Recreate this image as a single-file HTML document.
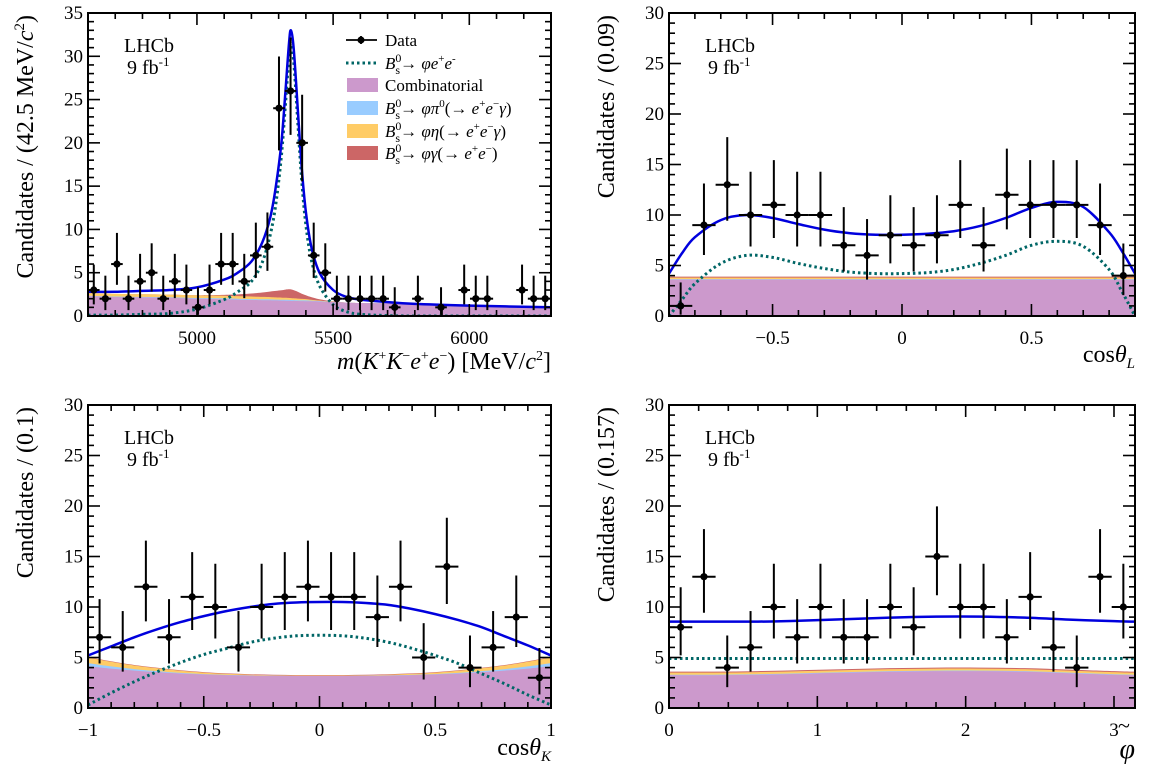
<!DOCTYPE html>
<html><head><meta charset="utf-8"><style>
html,body{margin:0;padding:0;background:#fff;}
svg{display:block;}
svg text{font-family:"Liberation Serif","DejaVu Serif",serif;}
</style></head><body>
<svg id="fig" width="1158" height="782" viewBox="0 0 1158 782" xmlns="http://www.w3.org/2000/svg" font-family="Liberation Serif, serif"></svg>
<script>
// ---------- Panel 1: mass ----------
const massBinCenters = [];
for (let i = 0; i < 40; i++) massBinCenters.push(4600 + 42.5 * (i + 0.5));
const massCounts = [3,2,6,2,4,5,2,4,3,1,3,6,6,4,7,8,24,26,20,7,5,2,2,2,2,2,1,0,2,0,1,0,3,2,2,0,0,3,2,2];
const massCurveX = [4600,4700,4800,4900,5000,5100,5150,5200,5240,5270,5290,5310,5325,5338,5345,5355,5370,5385,5400,5420,5450,5500,5550,5600,5700,5800,6000,6300];
const massTotal = [2.8,2.8,2.9,3.0,3.3,4.2,5.0,6.3,8.5,11.5,15,20,26,31.5,33,31,24,17,12,8,5,3.0,2.2,1.9,1.6,1.4,1.2,1.0];
const massSignal = [0.1,0.1,0.2,0.3,0.8,1.9,2.8,4.0,6.2,9.5,13,18.5,24.5,30,31.5,29.5,22.5,15.5,10.5,6.5,3.5,1.3,0.5,0.2,0.05,0,0,0];
const massComb = [2.3,2.2,2.15,2.1,2.0,1.95,1.9,1.85,1.83,1.82,1.8,1.78,1.77,1.76,1.75,1.74,1.73,1.72,1.71,1.7,1.68,1.6,1.55,1.5,1.45,1.35,1.15,0.9];
const massPi0 = [0.05,0.05,0.06,0.07,0.08,0.09,0.1,0.1,0.1,0.1,0.1,0.1,0.1,0.1,0.1,0.1,0.1,0.1,0.1,0.08,0.05,0.02,0,0,0,0,0,0];
const massEta = [0.3,0.3,0.3,0.3,0.3,0.3,0.3,0.3,0.28,0.26,0.25,0.24,0.23,0.22,0.22,0.2,0.18,0.16,0.14,0.1,0.06,0.02,0,0,0,0,0,0];
const massGamma = [0,0,0,0,0.02,0.1,0.2,0.35,0.5,0.65,0.75,0.85,0.95,1.0,1.0,0.95,0.8,0.6,0.45,0.3,0.15,0.05,0,0,0,0,0,0];
const massXTicks = [5000,5500,6000];
// ---------- Panel 2: cos theta_L ----------
const ctlBinCenters = [];
for (let i = 0; i < 20; i++) ctlBinCenters.push(-0.9 + 0.09 * (i + 0.5));
const ctlCounts = [1,9,13,10,11,10,10,7,6,8,7,8,11,7,12,11,11,11,9,4];
const ctlCurveX = [-0.9,-0.85,-0.8,-0.7,-0.6,-0.5,-0.4,-0.3,-0.2,-0.1,0,0.1,0.2,0.3,0.4,0.5,0.6,0.7,0.8,0.85,0.9];
const ctlTotal = [4.2,6.2,7.8,9.5,10.0,9.7,9.1,8.55,8.2,8.05,8.05,8.15,8.4,8.9,9.7,10.7,11.3,10.8,8.3,6.4,4.2];
const ctlSignal = [0,1.6,3.2,5.2,6.0,5.8,5.2,4.7,4.35,4.2,4.2,4.3,4.6,5.2,6.0,7.0,7.4,6.9,4.6,2.4,0];
const ctlComb = [3.6,3.6,3.6,3.6,3.6,3.6,3.6,3.6,3.6,3.6,3.6,3.6,3.6,3.6,3.6,3.6,3.6,3.6,3.6,3.6,3.6];
const ctlPi0 = [0.05,0.05,0.05,0.05,0.05,0.05,0.05,0.05,0.05,0.05,0.05,0.05,0.05,0.05,0.05,0.05,0.05,0.05,0.05,0.05,0.05];
const ctlEta = [0.15,0.15,0.15,0.15,0.15,0.15,0.15,0.15,0.15,0.15,0.15,0.15,0.15,0.15,0.15,0.15,0.15,0.15,0.15,0.15,0.15];
const ctlGamma = [0.1,0.1,0.1,0.1,0.1,0.1,0.1,0.1,0.1,0.1,0.1,0.1,0.1,0.1,0.1,0.1,0.1,0.1,0.1,0.1,0.1];
const ctlXTicks = [-0.5,0,0.5];
// ---------- Panel 3: cos theta_K ----------
const ctkBinCenters = [];
for (let i = 0; i < 20; i++) ctkBinCenters.push(-1 + 0.1 * (i + 0.5));
const ctkCounts = [7,6,12,7,11,10,6,10,11,12,11,11,9,12,5,14,4,6,9,3];
const ctkCurveX = [-1,-0.9,-0.8,-0.7,-0.6,-0.5,-0.4,-0.3,-0.2,-0.1,0,0.1,0.2,0.3,0.4,0.5,0.6,0.7,0.8,0.9,1];
const ctkTotal = [5.2,6.1,7.0,7.8,8.5,9.1,9.6,10.0,10.3,10.45,10.5,10.5,10.4,10.2,9.8,9.3,8.7,8.0,7.1,6.2,5.2];
const ctkSignal = [0.3,1.5,2.6,3.6,4.5,5.3,5.9,6.5,6.9,7.15,7.2,7.15,6.9,6.5,5.9,5.2,4.4,3.4,2.4,1.3,0.3];
const ctkComb = [4.15,3.9,3.7,3.55,3.42,3.33,3.26,3.22,3.19,3.17,3.17,3.17,3.19,3.22,3.26,3.33,3.42,3.55,3.7,3.9,4.15];
const ctkPi0 = [0.3,0.22,0.15,0.1,0.06,0.03,0.02,0.01,0,0,0,0,0,0.01,0.02,0.03,0.06,0.1,0.15,0.22,0.3];
const ctkEta = [0.55,0.45,0.36,0.28,0.2,0.14,0.1,0.07,0.05,0.04,0.04,0.04,0.05,0.07,0.1,0.14,0.2,0.28,0.36,0.45,0.55];
const ctkGamma = [0.05,0.05,0.05,0.05,0.05,0.05,0.05,0.05,0.05,0.05,0.05,0.05,0.05,0.05,0.05,0.05,0.05,0.05,0.05,0.05,0.05];
const ctkXTicks = [-1,-0.5,0,0.5,1];
// ---------- Panel 4: phi ----------
const phiBinCenters = [];
for (let i = 0; i < 20; i++) phiBinCenters.push(Math.PI / 20 * (i + 0.5));
const phiCounts = [8,13,4,6,10,7,10,7,7,10,8,15,10,10,7,11,6,4,13,10];
const phiCurveX = [0,0.3,0.6,0.9,1.2,1.5,1.8,2.1,2.4,2.7,3.0,3.1416];
const phiTotal = [8.55,8.55,8.55,8.65,8.8,8.95,9.05,9.05,8.95,8.75,8.6,8.55];
const phiSignal = [4.9,4.9,4.9,4.9,4.9,4.9,4.9,4.9,4.9,4.9,4.9,4.9];
const phiComb = [3.25,3.25,3.3,3.4,3.5,3.6,3.65,3.65,3.6,3.45,3.3,3.25];
const phiPi0 = [0.05,0.05,0.05,0.05,0.05,0.05,0.05,0.05,0.05,0.05,0.05,0.05];
const phiEta = [0.2,0.2,0.2,0.2,0.2,0.2,0.2,0.2,0.2,0.2,0.2,0.2];
const phiGamma = [0.1,0.1,0.1,0.1,0.1,0.1,0.1,0.1,0.1,0.1,0.1,0.1];
const phiXTicks = [0,1,2,3];

const NS = "http://www.w3.org/2000/svg";
const svg = document.getElementById('fig');
function mk(tag, attrs, parent) {
  const e = document.createElementNS(NS, tag);
  for (const k in attrs) e.setAttribute(k, attrs[k]);
  (parent || svg).appendChild(e);
  return e;
}
const COLORS = {comb:'#cc99cc', pi0:'#99ccff', eta:'#ffcc66', gamma:'#cc6666'};

function smoothPath(pts) {
  let d = 'M' + pts[0][0].toFixed(1) + ',' + pts[0][1].toFixed(1);
  for (let i = 0; i < pts.length - 1; i++) {
    const p0 = pts[i - 1] || pts[i], p1 = pts[i], p2 = pts[i + 1], p3 = pts[i + 2] || p2;
    const c1x = p1[0] + (p2[0] - p0[0]) / 6, c1y = p1[1] + (p2[1] - p0[1]) / 6;
    const c2x = p2[0] - (p3[0] - p1[0]) / 6, c2y = p2[1] - (p3[1] - p1[1]) / 6;
    d += ' C' + c1x.toFixed(1) + ',' + c1y.toFixed(1) + ' ' + c2x.toFixed(1) + ',' + c2y.toFixed(1) + ' ' + p2[0].toFixed(1) + ',' + p2[1].toFixed(1);
  }
  return d;
}

function panel(cfg) {
  const g = mk('g', {});
  
  
  const L = cfg.L, R = cfg.R, T = cfg.T, B = cfg.B;
  const sx = v => L + (v - cfg.xmin) / (cfg.xmax - cfg.xmin) * (R - L);
  const sy = v => B - (v - 0) / (cfg.ymax - 0) * (B - T);
  const clip = 'clip-' + cfg.name;
  const cp = mk('clipPath', {id: clip}, g);
  mk('rect', {x: L, y: T, width: R - L, height: B - T}, cp);
  const area = mk('g', {'clip-path': 'url(#' + clip + ')'}, g);
  const layers = [['comb', cfg.comb], ['pi0', cfg.pi0], ['eta', cfg.eta], ['gamma', cfg.gamma]];
  let base = cfg.cx.map(() => 0);
  const polys = [];
  layers.forEach(([k, arr]) => {
    const top = base.map((b, i) => b + arr[i]);
    polys.push([k, top]);
    base = top;
  });
  polys.reverse().forEach(([k, top]) => {
    const pts = cfg.cx.map((x, i) => [sx(x), sy(top[i])]);
    let d = smoothPath(pts);
    d += ' L' + sx(cfg.cx[cfg.cx.length - 1]) + ',' + sy(0) + ' L' + sx(cfg.cx[0]) + ',' + sy(0) + ' Z';
    const p = mk('path', {d: d, fill: COLORS[k], stroke: 'none'}, area);
    
    
  });
  function line(arr, attrs, nm) {
    const d = smoothPath(cfg.cx.map((x, i) => [sx(x), sy(arr[i])]));
    const p = mk('path', Object.assign({d: d, fill: 'none'}, attrs), area);
    
    
  }
  line(cfg.signal, {stroke: '#006666', 'stroke-width': 3, 'stroke-dasharray': '2.5,3'}, 'signal-curve');
  line(cfg.total, {stroke: '#0000dd', 'stroke-width': 2.5, 'stroke-linejoin': 'round'}, 'total-fit-curve');
  const hw = cfg.bw / 2;
  cfg.bc.forEach((x, i) => {
    const n = cfg.counts[i];
    if (n <= 0) return;
    const up = n + Math.sqrt(n + 0.75) + 1, dn = n - Math.sqrt(n - 0.25);
    const pg = mk('g', {stroke: '#000', 'stroke-width': 2}, area);
    
    
    mk('line', {x1: sx(x - hw), x2: sx(x + hw), y1: sy(n), y2: sy(n)}, pg);
    mk('line', {x1: sx(x), x2: sx(x), y1: sy(up), y2: sy(dn)}, pg);
    mk('circle', {cx: sx(x), cy: sy(n), r: 3.6, fill: '#000', stroke: 'none'}, pg);
  });
  const fr = mk('rect', {x: L, y: T, width: R - L, height: B - T, fill: 'none', stroke: '#000', 'stroke-width': 2}, g);
  
  
  const tk = mk('g', {stroke: '#000', 'stroke-width': 1.6}, g);
  for (let v = 0; v <= cfg.ymax + 1e-9; v += 1) {
    const len = v % 5 === 0 ? 12 : 6;
    mk('line', {x1: L, x2: L + len, y1: sy(v), y2: sy(v)}, tk);
    mk('line', {x1: R, x2: R - len, y1: sy(v), y2: sy(v)}, tk);
  }
  const start = Math.ceil(cfg.xmin / cfg.minor - 1e-6) * cfg.minor;
  for (let v = start; v <= cfg.xmax + 1e-6; v += cfg.minor) {
    const isMaj = Math.abs(v / cfg.major - Math.round(v / cfg.major)) < 1e-4;
    const len = isMaj ? 12 : 6;
    mk('line', {x1: sx(v), x2: sx(v), y1: B, y2: B - len}, tk);
    mk('line', {x1: sx(v), x2: sx(v), y1: T, y2: T + len}, tk);
  }
  for (let v = 0; v <= cfg.ymax; v += 5) {
    const t = mk('text', {x: L - 5, y: sy(v) + 6, 'text-anchor': 'end', 'font-size': 19}, g);
    t.textContent = v;
    
    
  }
  cfg.xticks.forEach(v => {
    const t = mk('text', {x: sx(v), y: B + 28, 'text-anchor': 'middle', 'font-size': 19}, g);
    t.textContent = v < 0 ? '\u2212' + (-v) : String(v);
    
    
  });
  const l1 = mk('text', {x: L + 36, y: T + 39, 'font-size': 20}, g);
  l1.textContent = 'LHCb';
  
  
  const l2 = mk('text', {x: L + 39, y: T + 61, 'font-size': 20}, g);
  l2.innerHTML = '9 fb<tspan dy="-8" font-size="13">-1</tspan>';
  
  
  const yt = mk('text', {transform: 'translate(' + cfg.ytx + ',' + (T + 2) + ') rotate(-90)', 'text-anchor': 'end', 'font-size': 24}, g);
  yt.innerHTML = cfg.ytitle;
  
  
  const xt = mk('text', {x: R, y: cfg.xty, 'text-anchor': 'end', 'font-size': 24}, g);
  xt.innerHTML = cfg.xtitle;
  
  
  return {g: g, R: R, xty: cfg.xty};
}

panel({name:'mass-panel', L:88, R:551, T:13, B:316, xmin:4600, xmax:6300, ymax:35, major:500, minor:100,
  bc:massBinCenters, bw:42.5, counts:massCounts, cx:massCurveX, total:massTotal, signal:massSignal,
  comb:massComb, pi0:massPi0, eta:massEta, gamma:massGamma, xticks:massXTicks, ytx:33,
  ytitle:'Candidates / (42.5 MeV/<tspan font-style="italic">c</tspan><tspan dy="-9" font-size="15">2</tspan><tspan dy="9">)</tspan>',
  xty:369, xtitle:'<tspan font-style="italic">m</tspan>(<tspan font-style="italic">K</tspan><tspan dy="-9" font-size="14">+</tspan><tspan dy="9" font-style="italic">K</tspan><tspan dy="-9" font-size="14">\u2212</tspan><tspan dy="9" font-style="italic">e</tspan><tspan dy="-9" font-size="14">+</tspan><tspan dy="9" font-style="italic">e</tspan><tspan dy="-9" font-size="14">\u2212</tspan><tspan dy="9">) [MeV/</tspan><tspan font-style="italic">c</tspan><tspan dy="-9" font-size="14">2</tspan><tspan dy="9">]</tspan>'});
panel({name:'costhetal-panel', L:669, R:1135, T:13, B:316, xmin:-0.9, xmax:0.9, ymax:30, major:0.5, minor:0.1,
  bc:ctlBinCenters, bw:0.09, counts:ctlCounts, cx:ctlCurveX, total:ctlTotal, signal:ctlSignal,
  comb:ctlComb, pi0:ctlPi0, eta:ctlEta, gamma:ctlGamma, xticks:ctlXTicks, ytx:614,
  ytitle:'Candidates / (0.09)', xty:362, xtitle:'cos<tspan font-style="italic">\u03b8</tspan><tspan dy="6" font-size="15" font-style="italic">L</tspan>'});
panel({name:'costhetak-panel', L:88, R:551, T:405, B:708, xmin:-1, xmax:1, ymax:30, major:0.5, minor:0.1,
  bc:ctkBinCenters, bw:0.1, counts:ctkCounts, cx:ctkCurveX, total:ctkTotal, signal:ctkSignal,
  comb:ctkComb, pi0:ctkPi0, eta:ctkEta, gamma:ctkGamma, xticks:ctkXTicks, ytx:33,
  ytitle:'Candidates / (0.1)', xty:755, xtitle:'cos<tspan font-style="italic">\u03b8</tspan><tspan dy="6" font-size="15" font-style="italic">K</tspan>'});
const p4 = panel({name:'phi-panel', L:669, R:1135, T:405, B:708, xmin:0, xmax:Math.PI, ymax:30, major:1, minor:0.2,
  bc:phiBinCenters, bw:Math.PI/20, counts:phiCounts, cx:phiCurveX, total:phiTotal, signal:phiSignal,
  comb:phiComb, pi0:phiPi0, eta:phiEta, gamma:phiGamma, xticks:phiXTicks, ytx:614,
  ytitle:'Candidates / (0.157)', xty:758, xtitle:'<tspan font-style="italic" font-size="28">\u03c6</tspan>'});
const tl = mk('text', {x: 1124, y: 733, 'text-anchor': 'middle', 'font-size': 22}, p4.g);
tl.textContent = '~';



const lg = mk('g', {'font-size': 17});


const rows = [40, 63, 85, 108, 131, 153];
const bs = '<tspan font-style="italic">B</tspan><tspan dy="-7" font-size="12">0</tspan><tspan dx="-6" dy="12" font-size="12">s</tspan><tspan dy="-5">\u2192 </tspan>';
const labels = ['Data',
  bs + '<tspan font-style="italic">\u03c6e</tspan><tspan dy="-7" font-size="11">+</tspan><tspan dy="7" font-style="italic">e</tspan><tspan dy="-7" font-size="11">-</tspan>',
  'Combinatorial',
  bs + '<tspan font-style="italic">\u03c6\u03c0</tspan><tspan dy="-7" font-size="11">0</tspan><tspan dy="7">(\u2192 </tspan><tspan font-style="italic">e</tspan><tspan dy="-7" font-size="11">+</tspan><tspan dy="7" font-style="italic">e</tspan><tspan dy="-7" font-size="11">\u2212</tspan><tspan dy="7" font-style="italic">\u03b3</tspan>)',
  bs + '<tspan font-style="italic">\u03c6\u03b7</tspan>(\u2192 <tspan font-style="italic">e</tspan><tspan dy="-7" font-size="11">+</tspan><tspan dy="7" font-style="italic">e</tspan><tspan dy="-7" font-size="11">\u2212</tspan><tspan dy="7" font-style="italic">\u03b3</tspan>)',
  bs + '<tspan font-style="italic">\u03c6\u03b3</tspan>(\u2192 <tspan font-style="italic">e</tspan><tspan dy="-7" font-size="11">+</tspan><tspan dy="7" font-style="italic">e</tspan><tspan dy="-7" font-size="11">\u2212</tspan><tspan dy="7">)</tspan>'];
const legKeys = ['data','signal','comb','pi0','eta','gamma'];
rows.forEach((y, i) => {
  const e = mk('g', {}, lg);
  
  
  if (i === 0) {
    mk('line', {x1: 346, x2: 377, y1: y, y2: y, stroke: '#000', 'stroke-width': 1.8}, e);
    mk('line', {x1: 361, x2: 361, y1: y - 4, y2: y + 4, stroke: '#000', 'stroke-width': 1.8}, e);
    mk('circle', {cx: 361, cy: y, r: 3.5}, e);
  } else if (i === 1) {
    mk('line', {x1: 346, x2: 377, y1: y, y2: y, stroke: '#006666', 'stroke-width': 3, 'stroke-dasharray': '2.5,3'}, e);
  } else {
    mk('rect', {x: 347, y: y - 7, width: 31, height: 14, fill: COLORS[legKeys[i]]}, e);
  }
  const t = mk('text', {x: 385, y: y + 6}, e);
  t.innerHTML = labels[i];
});
</script>
</body></html>
